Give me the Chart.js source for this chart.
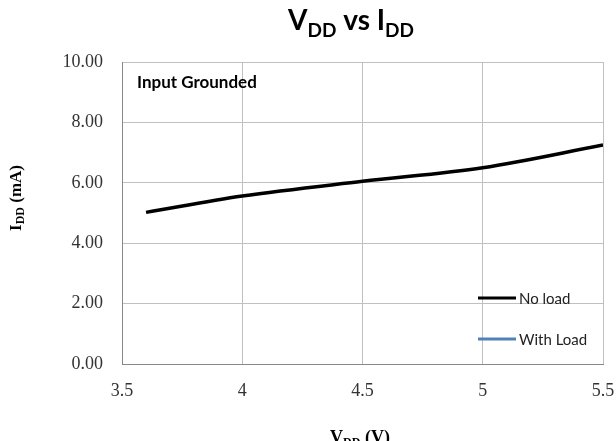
<!DOCTYPE html>
<html>
<head>
<meta charset="utf-8">
<script src="https://cdn.jsdelivr.net/npm/chart.js@4.4.0/dist/chart.umd.min.js"></script>
<style>
  html, body { margin: 0; padding: 0; background: #fff; }
  #wrap { width: 616px; height: 441px; }
</style>
</head>
<body>
<div id="wrap"><canvas id="c"></canvas></div>
<script>
// data
const vdd = [3.6, 4.0, 4.5, 5.0, 5.5];
const iddNoLoad = [5.02, 5.56, 6.05, 6.50, 7.25];
const iddWithLoad = [];
const yTicks = [0, 2, 4, 6, 8, 10];

// draws text made of [text, font, baselineShift] pieces
function drawRuns(ctx, runs, x, y) {
    let w = 0;
    runs.forEach(r => { ctx.font = r[1]; w += ctx.measureText(r[0]).width; });
    let cx = x - w / 2;
    ctx.textAlign = 'left';
    ctx.textBaseline = 'alphabetic';
    runs.forEach(r => {
        ctx.font = r[1];
        ctx.fillText(r[0], cx, y + r[2]);
        cx += ctx.measureText(r[0]).width;
    });
}

const textPlugin = {
    id: 'texts',
    afterDraw(chart) {
        const ctx = chart.ctx;
        ctx.save();
        ctx.fillStyle = '#000';

        // title
        const tb = 'bold 28px Lato';
        const ts = 'bold 19px Lato';
        drawRuns(ctx, [['V', tb, 0], ['DD', ts, 7], [' vs I', tb, 0], ['DD', ts, 7]], 351, 30);

        // x axis title
        const xb = 'bold 18px "Liberation Serif"';
        const xs = 'bold 12px "Liberation Serif"';
        drawRuns(ctx, [['V', xb, 0], ['DD', xs, 3], [' (V)', xb, 0]], 360, 443);

        // y axis title
        ctx.translate(15, 198);
        ctx.rotate(-Math.PI / 2);
        drawRuns(ctx, [['I', 'bold 17px "Liberation Serif"', 0], ['DD', xs, 3], [' (mA)', 'bold 17px "Liberation Serif"', 0]], 0, 6);
        ctx.restore();

        ctx.save();
        // annotation
        ctx.fillStyle = '#000';
        ctx.font = 'bold 17px Lato';
        ctx.textAlign = 'left';
        ctx.textBaseline = 'middle';
        ctx.fillText('Input Grounded', 137, 83);

        // legend inside plot
        const rows = [298, 339];
        chart.data.datasets.forEach((ds, i) => {
            const y = rows[i];
            ctx.strokeStyle = ds.borderColor;
            ctx.lineWidth = 3;
            ctx.beginPath();
            ctx.moveTo(478, y);
            ctx.lineTo(516, y);
            ctx.stroke();
            ctx.fillStyle = '#222';
            ctx.font = '15px Lato';
            ctx.textBaseline = 'middle';
            ctx.fillText(ds.label, 519, y + 1);
        });
        ctx.restore();
    }
};

new Chart(document.getElementById('c'), {
    type: 'line',
    data: {
        datasets: [{
            label: 'No load',
            data: vdd.map((v, i) => ({ x: v, y: iddNoLoad[i] })),
            borderColor: '#000000',
            borderWidth: 3.5,
            pointRadius: 0,
            cubicInterpolationMode: 'monotone'
        }, {
            label: 'With Load',
            data: iddWithLoad,
            borderColor: '#4f81bd',
            borderWidth: 3,
            pointRadius: 0
        }]
    },
    options: {
        responsive: true,
        maintainAspectRatio: false,
        animation: false,
        layout: { padding: { top: 62, right: 13, left: 0, bottom: 0 } },
        plugins: {
            legend: { display: false },
            title: { display: false },
            tooltip: { enabled: false }
        },
        scales: {
            x: {
                type: 'linear',
                min: 3.5,
                max: 5.5,
                ticks: {
                    stepSize: 0.5,
                    padding: 16,
                    color: '#333',
                    font: { family: 'Liberation Serif', size: 18 },
                    callback: v => String(Math.round(v * 10) / 10)
                },
                grid: { color: '#c0c0c0', drawTicks: false },
                border: { color: '#888' },
                afterFit(scale) {
                    scale.height = 77;
                    scale.paddingLeft = 0;
                    scale.paddingRight = 0;
                }
            },
            y: {
                min: 0,
                max: 10,
                afterBuildTicks(scale) { scale.ticks = yTicks.map(v => ({ value: v })); },
                ticks: {
                    padding: 19,
                    color: '#333',
                    font: { family: 'Liberation Serif', size: 18 },
                    callback: v => v.toFixed(2)
                },
                grid: { color: '#c0c0c0', drawTicks: false },
                border: { color: '#888' },
                afterFit(scale) { scale.width = 122; }
            }
        }
    },
    plugins: [textPlugin]
});
</script>
</body>
</html>
